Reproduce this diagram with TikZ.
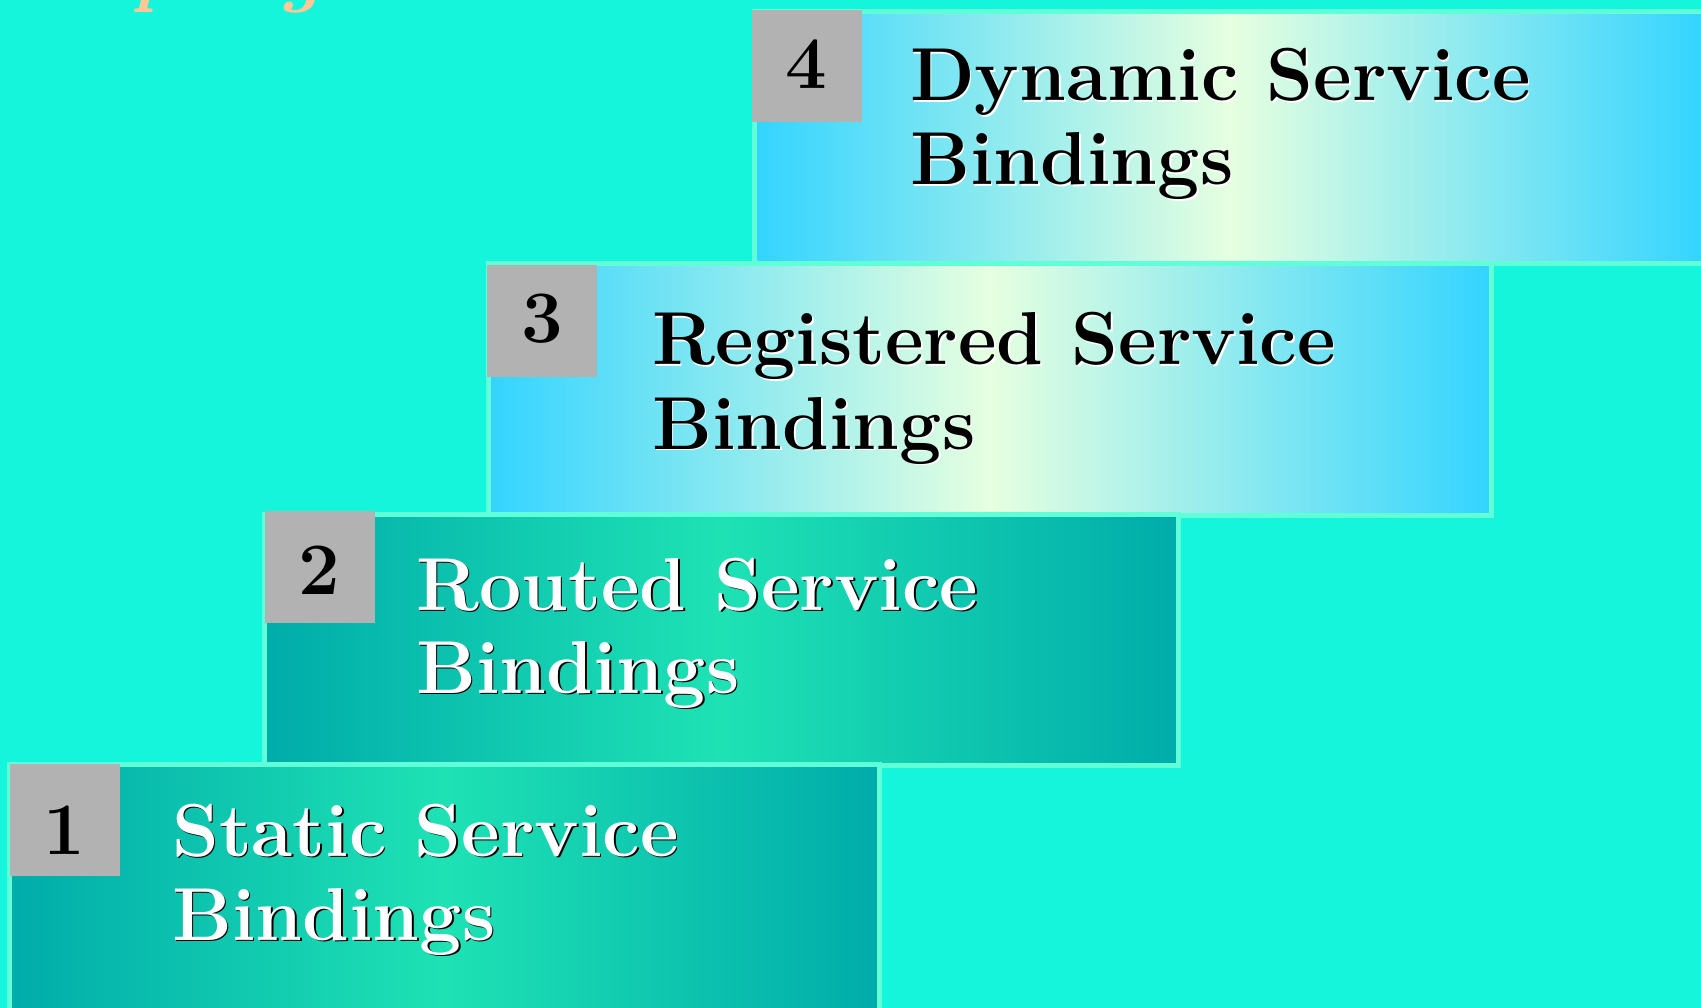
\documentclass[tikz,border=0pt]{standalone}
\usepackage{fontspec}
\definecolor{bgc}{RGB}{20,245,220}
\definecolor{edgec}{RGB}{96,255,216}
\definecolor{graybox}{RGB}{178,178,178}
\definecolor{tealdk}{RGB}{0,172,170}
\definecolor{teallt}{RGB}{30,226,180}
\definecolor{bluedk}{RGB}{51,212,255}
\definecolor{bluelt}{RGB}{230,255,224}
\definecolor{orangec}{RGB}{255,200,150}
\newcommand{\shadowed}[3]{\rlap{\kern1.6pt\raisebox{-1.6pt}{\color{#2}#3}}{\color{#1}#3}}
\newcommand{\heavy}{\bfseries\addfontfeatures{FakeBold=1.8}}
\begin{document}
\begin{tikzpicture}[x=1pt,y=-1pt,
  stairbox/.style={line width=5pt, draw=edgec},
  tealstep/.style={stairbox, left color=tealdk, right color=tealdk, middle color=teallt},
  bluestep/.style={stairbox, left color=bluedk, right color=bluedk, middle color=bluelt},
  numbox/.style={fill=graybox, minimum width=110pt, minimum height=112pt, inner sep=0pt, outer sep=0pt},
  numtxt/.style={anchor=base, font=\fontsize{74}{84}\selectfont\heavy, text=black, inner sep=0pt},
  titletxt/.style={anchor=base west, font=\fontsize{75}{84}\selectfont\heavy, inner sep=0pt}
]
\useasboundingbox (0,0) rectangle (1701,1008);
\fill[bgc] (0,0) rectangle (1701,1008);

% top title fragment (clipped by page edge)
\node[anchor=base west, font=\fontsize{78}{80}\selectfont\bfseries\itshape, text=orangec, inner sep=0pt] (title) at (-27,-2) {Coupling in use.};

% steps
\path[bluestep] (754.5,11.5) rectangle (1706,263.5);
\path[bluestep] (488.5,263.5) rectangle (1491.5,515.5);
\path[tealstep] (264.5,514.5) rectangle (1178.5,765.5);
\path[tealstep] (9.5,764.5) rectangle (879.5,1030);

% number squares
\node[numbox] (g4) at (806.5,66) {};
\node[numbox] (g3) at (542,321.5) {};
\node[numbox] (g2) at (319.5,567) {};
\node[numbox] (g1) at (64.5,820) {};

\node[numtxt] (n4) at (g4.center |- 0,89) {4};
\node[numtxt] (n3) at (g3.center |- 0,343) {3};
\node[numtxt] (n2) at (g2.center |- 0,594) {2};
\node[numtxt] (n1) at (g1.center |- 0,854) {1};

% titles
\node[titletxt] (t4a) at (910,101) {\shadowed{black}{white}{Dynamic Service}};
\node[titletxt] (t4b) at (910,185) {\shadowed{black}{white}{Bindings}};
\node[titletxt] (t3a) at (652,365) {\shadowed{black}{white}{Registered Service}};
\node[titletxt] (t3b) at (652,449) {\shadowed{black}{white}{Bindings}};
\node[titletxt] (t2a) at (416,610) {\shadowed{white}{black}{Routed Service}};
\node[titletxt] (t2b) at (416,693) {\shadowed{white}{black}{Bindings}};
\node[titletxt] (t1a) at (172,856) {\shadowed{white}{black}{Static Service}};
\node[titletxt] (t1b) at (172,940) {\shadowed{white}{black}{Bindings}};
\end{tikzpicture}
\end{document}
